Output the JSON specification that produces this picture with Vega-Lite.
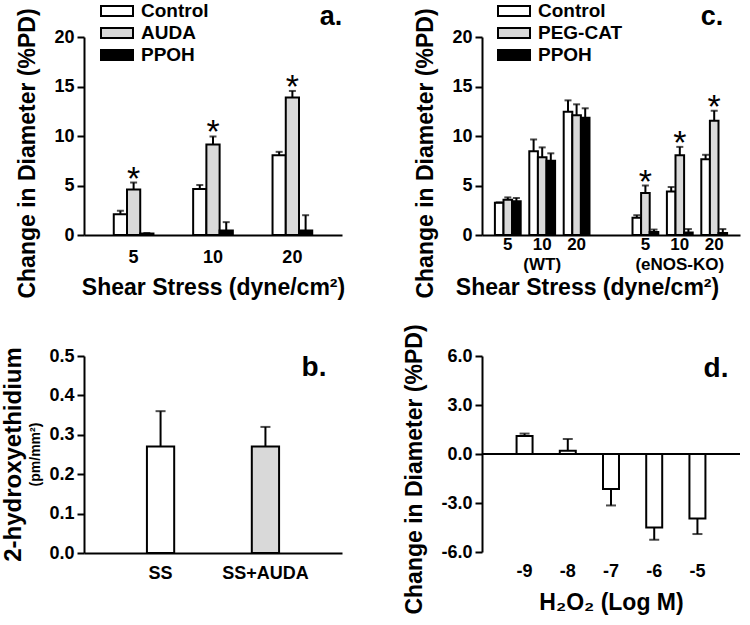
{
  "$schema": "https://vega.github.io/schema/vega-lite/v6.json",
  "background": "white",
  "padding": {"left": 1, "top": 0, "right": 5, "bottom": 0},
  "columns": 2,
  "spacing": {"row": 24, "column": 58},
  "resolve": {"scale": {"x": "independent", "y": "independent", "fill": "independent", "xOffset": "independent"}, "legend": {"fill": "independent"}},
  "config": {
    "view": {"stroke": null},
    "font": "Liberation Sans",
    "axis": {"labelFont": "Liberation Sans", "titleFont": "Liberation Sans", "labelFontSize": 18, "labelFontWeight": "bold", "labelColor": "black", "titleFontSize": 23, "titleFontWeight": "bold", "titleColor": "black", "domainColor": "black", "domainWidth": 2, "tickColor": "black", "tickWidth": 2, "grid": false, "labelFlush": false, "labelOverlap": false},
    "axisX": {"labelAngle": 0},
    "text": {"font": "Liberation Sans", "color": "black"},
    "legend": {"orient": "none", "title": null, "symbolType": "M-1.6,-0.5H1.6V0.5H-1.6Z", "symbolSize": 400, "symbolStrokeColor": "black", "symbolStrokeWidth": 2, "labelFont": "Liberation Sans", "labelFontSize": 19, "labelFontWeight": "bold", "labelColor": "black", "labelOffset": 13, "rowPadding": 1}
  },
  "concat": [
    {
      "width": 258, "height": 198,
      "data": {"values": [
        {"stress": "5", "group": "Control", "mean": 2.1, "hi": 2.45, "sig": ""},
        {"stress": "5", "group": "AUDA", "mean": 4.6, "hi": 5.3, "sig": "*"},
        {"stress": "5", "group": "PPOH", "mean": 0.15, "hi": 0.2, "sig": ""},
        {"stress": "10", "group": "Control", "mean": 4.65, "hi": 5.05, "sig": ""},
        {"stress": "10", "group": "AUDA", "mean": 9.15, "hi": 9.95, "sig": "*"},
        {"stress": "10", "group": "PPOH", "mean": 0.45, "hi": 1.3, "sig": ""},
        {"stress": "20", "group": "Control", "mean": 8.05, "hi": 8.4, "sig": ""},
        {"stress": "20", "group": "AUDA", "mean": 13.9, "hi": 14.55, "sig": "*"},
        {"stress": "20", "group": "PPOH", "mean": 0.45, "hi": 2.0, "sig": ""}
      ]},
      "layer": [
        {"mark": {"type": "bar", "stroke": "black", "strokeWidth": 2},
         "encoding": {
           "x": {"field": "stress", "type": "nominal", "sort": ["5", "10", "20"], "scale": {"paddingInner": 0.5, "paddingOuter": 0.375}, "axis": {"title": "Shear Stress (dyne/cm²)", "ticks": false, "labelPadding": 13, "titlePadding": 10}},
           "xOffset": {"field": "group", "type": "nominal", "sort": ["Control", "AUDA", "PPOH"]},
           "y": {"field": "mean", "type": "quantitative", "scale": {"domain": [0, 20]}, "axis": {"title": "Change in Diameter (%PD)", "titleY": 116, "values": [0, 5, 10, 15, 20], "tickSize": 7, "labelPadding": 3, "titlePadding": 14, "labelOverlap": false}},
           "fill": {"field": "group", "type": "nominal", "scale": {"domain": ["Control", "AUDA", "PPOH"], "range": ["white", "#d9d9d9", "black"]}, "legend": {"legendX": 22, "legendY": -37}}
         }},
        {"mark": {"type": "rule", "strokeWidth": 2, "color": "black"},
         "encoding": {
           "x": {"field": "stress", "type": "nominal", "sort": ["5", "10", "20"], "scale": {"paddingInner": 0.5, "paddingOuter": 0.375}, "axis": {"title": "Shear Stress (dyne/cm²)", "ticks": false, "labelPadding": 13, "titlePadding": 10}},
           "xOffset": {"field": "group", "type": "nominal", "sort": ["Control", "AUDA", "PPOH"]},
           "y": {"field": "mean", "type": "quantitative", "scale": {"domain": [0, 20]}, "axis": {"title": "Change in Diameter (%PD)", "titleY": 116, "values": [0, 5, 10, 15, 20], "tickSize": 7, "labelPadding": 3, "titlePadding": 14, "labelOverlap": false}},
           "y2": {"field": "hi"}
         }},
        {"mark": {"type": "tick", "color": "black", "thickness": 2, "size": 7},
         "encoding": {
           "x": {"field": "stress", "type": "nominal", "sort": ["5", "10", "20"], "scale": {"paddingInner": 0.5, "paddingOuter": 0.375}, "axis": {"title": "Shear Stress (dyne/cm²)", "ticks": false, "labelPadding": 13, "titlePadding": 10}},
           "xOffset": {"field": "group", "type": "nominal", "sort": ["Control", "AUDA", "PPOH"]},
           "y": {"field": "hi", "type": "quantitative", "scale": {"domain": [0, 20]}, "axis": {"title": "Change in Diameter (%PD)", "titleY": 116, "values": [0, 5, 10, 15, 20], "tickSize": 7, "labelPadding": 3, "titlePadding": 14, "labelOverlap": false}}
         }},
        {"transform": [{"filter": "datum.sig == '*'"}],
         "mark": {"type": "text", "fontSize": 34, "baseline": "alphabetic", "dy": 7, "color": "black"},
         "encoding": {
           "text": {"field": "sig"},
           "x": {"field": "stress", "type": "nominal", "sort": ["5", "10", "20"], "scale": {"paddingInner": 0.5, "paddingOuter": 0.375}, "axis": {"title": "Shear Stress (dyne/cm²)", "ticks": false, "labelPadding": 13, "titlePadding": 10}},
           "xOffset": {"field": "group", "type": "nominal", "sort": ["Control", "AUDA", "PPOH"]},
           "y": {"field": "hi", "type": "quantitative", "scale": {"domain": [0, 20]}, "axis": {"title": "Change in Diameter (%PD)", "titleY": 116, "values": [0, 5, 10, 15, 20], "tickSize": 7, "labelPadding": 3, "titlePadding": 14, "labelOverlap": false}}
         }},
        {"data": {"values": [{"label": "a."}]},
         "mark": {"type": "text", "fontSize": 27, "fontWeight": "bold", "align": "right", "baseline": "alphabetic", "dx": 50, "dy": -12, "color": "black"},
         "encoding": {"text": {"field": "label"}, "x": {"datum": "20", "type": "nominal"}, "y": {"datum": 20, "type": "quantitative"}}}
      ]
    },
    {
      "width": 258, "height": 198,
      "resolve": {"axis": {"x": "independent"}},
      "data": {"values": [
        {"cond": "WT5", "group": "Control", "mean": 3.25, "hi": 3.3, "sig": ""},
        {"cond": "WT5", "group": "PEG-CAT", "mean": 3.55, "hi": 3.8, "sig": ""},
        {"cond": "WT5", "group": "PPOH", "mean": 3.4, "hi": 3.75, "sig": ""},
        {"cond": "WT10", "group": "Control", "mean": 8.45, "hi": 9.65, "sig": ""},
        {"cond": "WT10", "group": "PEG-CAT", "mean": 7.85, "hi": 8.85, "sig": ""},
        {"cond": "WT10", "group": "PPOH", "mean": 7.5, "hi": 8.25, "sig": ""},
        {"cond": "WT20", "group": "Control", "mean": 12.45, "hi": 13.6, "sig": ""},
        {"cond": "WT20", "group": "PEG-CAT", "mean": 12.1, "hi": 13.2, "sig": ""},
        {"cond": "WT20", "group": "PPOH", "mean": 11.85, "hi": 12.8, "sig": ""},
        {"cond": "KO5", "group": "Control", "mean": 1.75, "hi": 2.0, "sig": ""},
        {"cond": "KO5", "group": "PEG-CAT", "mean": 4.25, "hi": 5.0, "sig": "*"},
        {"cond": "KO5", "group": "PPOH", "mean": 0.3, "hi": 0.55, "sig": ""},
        {"cond": "KO10", "group": "Control", "mean": 4.4, "hi": 4.85, "sig": ""},
        {"cond": "KO10", "group": "PEG-CAT", "mean": 8.05, "hi": 8.9, "sig": "*"},
        {"cond": "KO10", "group": "PPOH", "mean": 0.25, "hi": 0.6, "sig": ""},
        {"cond": "KO20", "group": "Control", "mean": 7.65, "hi": 8.1, "sig": ""},
        {"cond": "KO20", "group": "PEG-CAT", "mean": 11.55, "hi": 12.55, "sig": "*"},
        {"cond": "KO20", "group": "PPOH", "mean": 0.2, "hi": 0.6, "sig": ""}
      ]},
      "layer": [
        {"mark": {"type": "bar", "stroke": "black", "strokeWidth": 2},
         "encoding": {
           "x": {"field": "cond", "type": "nominal", "scale": {"domain": ["WT5", "WT10", "WT20", "gap", "KO5", "KO10", "KO20"], "paddingInner": 0.25, "paddingOuter": 0.375}, "axis": {"title": null, "ticks": false, "labelPadding": 1, "labelFontSize": 17, "labelExpr": "datum.value == 'gap' ? '' : replace(replace(datum.value, 'WT', ''), 'KO', '')"}},
           "xOffset": {"field": "group", "type": "nominal", "sort": ["Control", "PEG-CAT", "PPOH"]},
           "y": {"field": "mean", "type": "quantitative", "scale": {"domain": [0, 20]}, "axis": {"title": "Change in Diameter (%PD)", "titleY": 116, "values": [0, 5, 10, 15, 20], "tickSize": 7, "labelPadding": 3, "titlePadding": 14, "labelOverlap": false}},
           "fill": {"field": "group", "type": "nominal", "scale": {"domain": ["Control", "PEG-CAT", "PPOH"], "range": ["white", "#d9d9d9", "black"]}, "legend": {"legendX": 21, "legendY": -37}}
         }},
        {"mark": {"type": "rule", "strokeWidth": 2, "color": "black"},
         "encoding": {
           "x": {"field": "cond", "type": "nominal", "axis": null},
           "xOffset": {"field": "group", "type": "nominal", "sort": ["Control", "PEG-CAT", "PPOH"]},
           "y": {"field": "mean", "type": "quantitative", "scale": {"domain": [0, 20]}, "axis": {"title": "Change in Diameter (%PD)", "titleY": 116, "values": [0, 5, 10, 15, 20], "tickSize": 7, "labelPadding": 3, "titlePadding": 14, "labelOverlap": false}},
           "y2": {"field": "hi"}
         }},
        {"mark": {"type": "tick", "color": "black", "thickness": 2, "size": 7},
         "encoding": {
           "x": {"field": "cond", "type": "nominal", "axis": {"orient": "bottom", "values": ["WT10", "KO10"], "labelExpr": "datum.value == 'WT10' ? '(WT)' : '(eNOS-KO)'", "labelFontSize": 17, "title": "Shear Stress (dyne/cm²)", "titleX": 105, "domain": false, "ticks": false, "labelPadding": 21, "titlePadding": 4}},
           "xOffset": {"field": "group", "type": "nominal", "sort": ["Control", "PEG-CAT", "PPOH"]},
           "y": {"field": "hi", "type": "quantitative", "scale": {"domain": [0, 20]}, "axis": {"title": "Change in Diameter (%PD)", "titleY": 116, "values": [0, 5, 10, 15, 20], "tickSize": 7, "labelPadding": 3, "titlePadding": 14, "labelOverlap": false}}
         }},
        {"transform": [{"filter": "datum.sig == '*'"}],
         "mark": {"type": "text", "fontSize": 34, "baseline": "alphabetic", "dy": 7, "color": "black"},
         "encoding": {
           "text": {"field": "sig"},
           "x": {"field": "cond", "type": "nominal", "axis": null},
           "xOffset": {"field": "group", "type": "nominal", "sort": ["Control", "PEG-CAT", "PPOH"]},
           "y": {"field": "hi", "type": "quantitative", "scale": {"domain": [0, 20]}, "axis": {"title": "Change in Diameter (%PD)", "titleY": 116, "values": [0, 5, 10, 15, 20], "tickSize": 7, "labelPadding": 3, "titlePadding": 14, "labelOverlap": false}}
         }},
        {"data": {"values": [{"label": "c."}]},
         "mark": {"type": "text", "fontSize": 27, "fontWeight": "bold", "align": "right", "baseline": "alphabetic", "dx": 9, "dy": -12, "color": "black"},
         "encoding": {"text": {"field": "label"}, "x": {"datum": "KO20", "type": "nominal", "axis": null}, "y": {"datum": 20, "type": "quantitative"}}}
      ]
    },
    {
      "width": 258, "height": 197,
      "title": {"text": "2-hydroxyethidium", "subtitle": "(pm/mm²)", "orient": "left", "anchor": "middle", "font": "Liberation Sans", "fontSize": 24, "fontWeight": "bold", "color": "black", "subtitleFont": "Liberation Sans", "subtitleFontSize": 14, "subtitleFontWeight": "bold", "subtitleColor": "black", "offset": 6, "subtitlePadding": 3},
      "data": {"values": [
        {"treat": "SS", "mean": 0.27, "hi": 0.36},
        {"treat": "SS+AUDA", "mean": 0.27, "hi": 0.32}
      ]},
      "layer": [
        {"mark": {"type": "bar", "stroke": "black", "strokeWidth": 2},
         "encoding": {
           "x": {"field": "treat", "type": "nominal", "sort": ["SS", "SS+AUDA"], "scale": {"paddingInner": 0.74, "paddingOuter": 0.6}, "axis": {"title": null, "ticks": false, "labelPadding": 11}},
           "y": {"field": "mean", "type": "quantitative", "scale": {"domain": [0, 0.5]}, "axis": {"title": null, "values": [0, 0.1, 0.2, 0.3, 0.4, 0.5], "tickCount": 10, "format": ".1f", "tickSize": 7, "labelPadding": 3, "labelOverlap": false}},
           "fill": {"field": "treat", "type": "nominal", "scale": {"domain": ["SS", "SS+AUDA"], "range": ["white", "#d9d9d9"]}, "legend": null}
         }},
        {"mark": {"type": "rule", "strokeWidth": 2, "color": "black"},
         "encoding": {
           "x": {"field": "treat", "type": "nominal", "sort": ["SS", "SS+AUDA"], "scale": {"paddingInner": 0.74, "paddingOuter": 0.6}, "axis": {"title": null, "ticks": false, "labelPadding": 11}},
           "y": {"field": "mean", "type": "quantitative", "scale": {"domain": [0, 0.5]}, "axis": {"title": null, "values": [0, 0.1, 0.2, 0.3, 0.4, 0.5], "tickCount": 10, "format": ".1f", "tickSize": 7, "labelPadding": 3, "labelOverlap": false}},
           "y2": {"field": "hi"}
         }},
        {"mark": {"type": "tick", "color": "black", "thickness": 2, "size": 10},
         "encoding": {
           "x": {"field": "treat", "type": "nominal", "sort": ["SS", "SS+AUDA"], "scale": {"paddingInner": 0.74, "paddingOuter": 0.6}, "axis": {"title": null, "ticks": false, "labelPadding": 11}},
           "y": {"field": "hi", "type": "quantitative", "scale": {"domain": [0, 0.5]}, "axis": {"title": null, "values": [0, 0.1, 0.2, 0.3, 0.4, 0.5], "tickCount": 10, "format": ".1f", "tickSize": 7, "labelPadding": 3, "labelOverlap": false}}
         }},
        {"data": {"values": [{"label": "b."}]},
         "mark": {"type": "text", "fontSize": 28, "fontWeight": "bold", "align": "right", "baseline": "top", "dx": 61, "dy": -2, "color": "black"},
         "encoding": {"text": {"field": "label"}, "x": {"datum": "SS+AUDA", "type": "nominal"}, "y": {"datum": 0.5, "type": "quantitative"}}}
      ]
    },
    {
      "width": 258, "height": 196,
      "data": {"values": [
        {"conc": "-9", "mean": 1.1, "hi": 1.25},
        {"conc": "-8", "mean": 0.2, "hi": 0.92},
        {"conc": "-7", "mean": -2.15, "hi": -3.15},
        {"conc": "-6", "mean": -4.5, "hi": -5.25},
        {"conc": "-5", "mean": -3.95, "hi": -4.9}
      ]},
      "layer": [
        {"mark": {"type": "bar", "stroke": "black", "strokeWidth": 2, "fill": "white"},
         "encoding": {
           "x": {"field": "conc", "type": "nominal", "sort": ["-9", "-8", "-7", "-6", "-5"], "scale": {"paddingInner": 0.63, "paddingOuter": 0.8}, "axis": {"title": "H₂O₂ (Log M)", "domain": false, "ticks": false, "labelPadding": 10, "titlePadding": 11}},
           "y": {"field": "mean", "type": "quantitative", "scale": {"domain": [-6, 6]}, "axis": {"title": "Change in Diameter (%PD)", "titleY": 113, "values": [-6, -3, 0, 3, 6], "labelExpr": "replace(format(datum.value, '.1f'), '−', '-')", "tickSize": 7, "labelPadding": 3, "titlePadding": 14, "labelOverlap": false}}
         }},
        {"mark": {"type": "rule", "strokeWidth": 2, "color": "black"},
         "encoding": {
           "x": {"field": "conc", "type": "nominal", "sort": ["-9", "-8", "-7", "-6", "-5"], "scale": {"paddingInner": 0.63, "paddingOuter": 0.8}, "axis": {"title": "H₂O₂ (Log M)", "domain": false, "ticks": false, "labelPadding": 10, "titlePadding": 11}},
           "y": {"field": "mean", "type": "quantitative", "scale": {"domain": [-6, 6]}, "axis": {"title": "Change in Diameter (%PD)", "titleY": 113, "values": [-6, -3, 0, 3, 6], "labelExpr": "replace(format(datum.value, '.1f'), '−', '-')", "tickSize": 7, "labelPadding": 3, "titlePadding": 14, "labelOverlap": false}},
           "y2": {"field": "hi"}
         }},
        {"mark": {"type": "tick", "color": "black", "thickness": 2, "size": 10},
         "encoding": {
           "x": {"field": "conc", "type": "nominal", "sort": ["-9", "-8", "-7", "-6", "-5"], "scale": {"paddingInner": 0.63, "paddingOuter": 0.8}, "axis": {"title": "H₂O₂ (Log M)", "domain": false, "ticks": false, "labelPadding": 10, "titlePadding": 11}},
           "y": {"field": "hi", "type": "quantitative", "scale": {"domain": [-6, 6]}, "axis": {"title": "Change in Diameter (%PD)", "titleY": 113, "values": [-6, -3, 0, 3, 6], "labelExpr": "replace(format(datum.value, '.1f'), '−', '-')", "tickSize": 7, "labelPadding": 3, "titlePadding": 14, "labelOverlap": false}}
         }},
        {"data": {"values": [{"zero": 0}]},
         "mark": {"type": "rule", "strokeWidth": 2, "color": "black"},
         "encoding": {"y": {"field": "zero", "type": "quantitative"}}},
        {"data": {"values": [{"label": "d."}]},
         "mark": {"type": "text", "fontSize": 28, "fontWeight": "bold", "align": "right", "baseline": "top", "dx": 31, "dy": -1, "color": "black"},
         "encoding": {"text": {"field": "label"}, "x": {"datum": "-5", "type": "nominal"}, "y": {"datum": 6, "type": "quantitative"}}}
      ]
    }
  ]
}
